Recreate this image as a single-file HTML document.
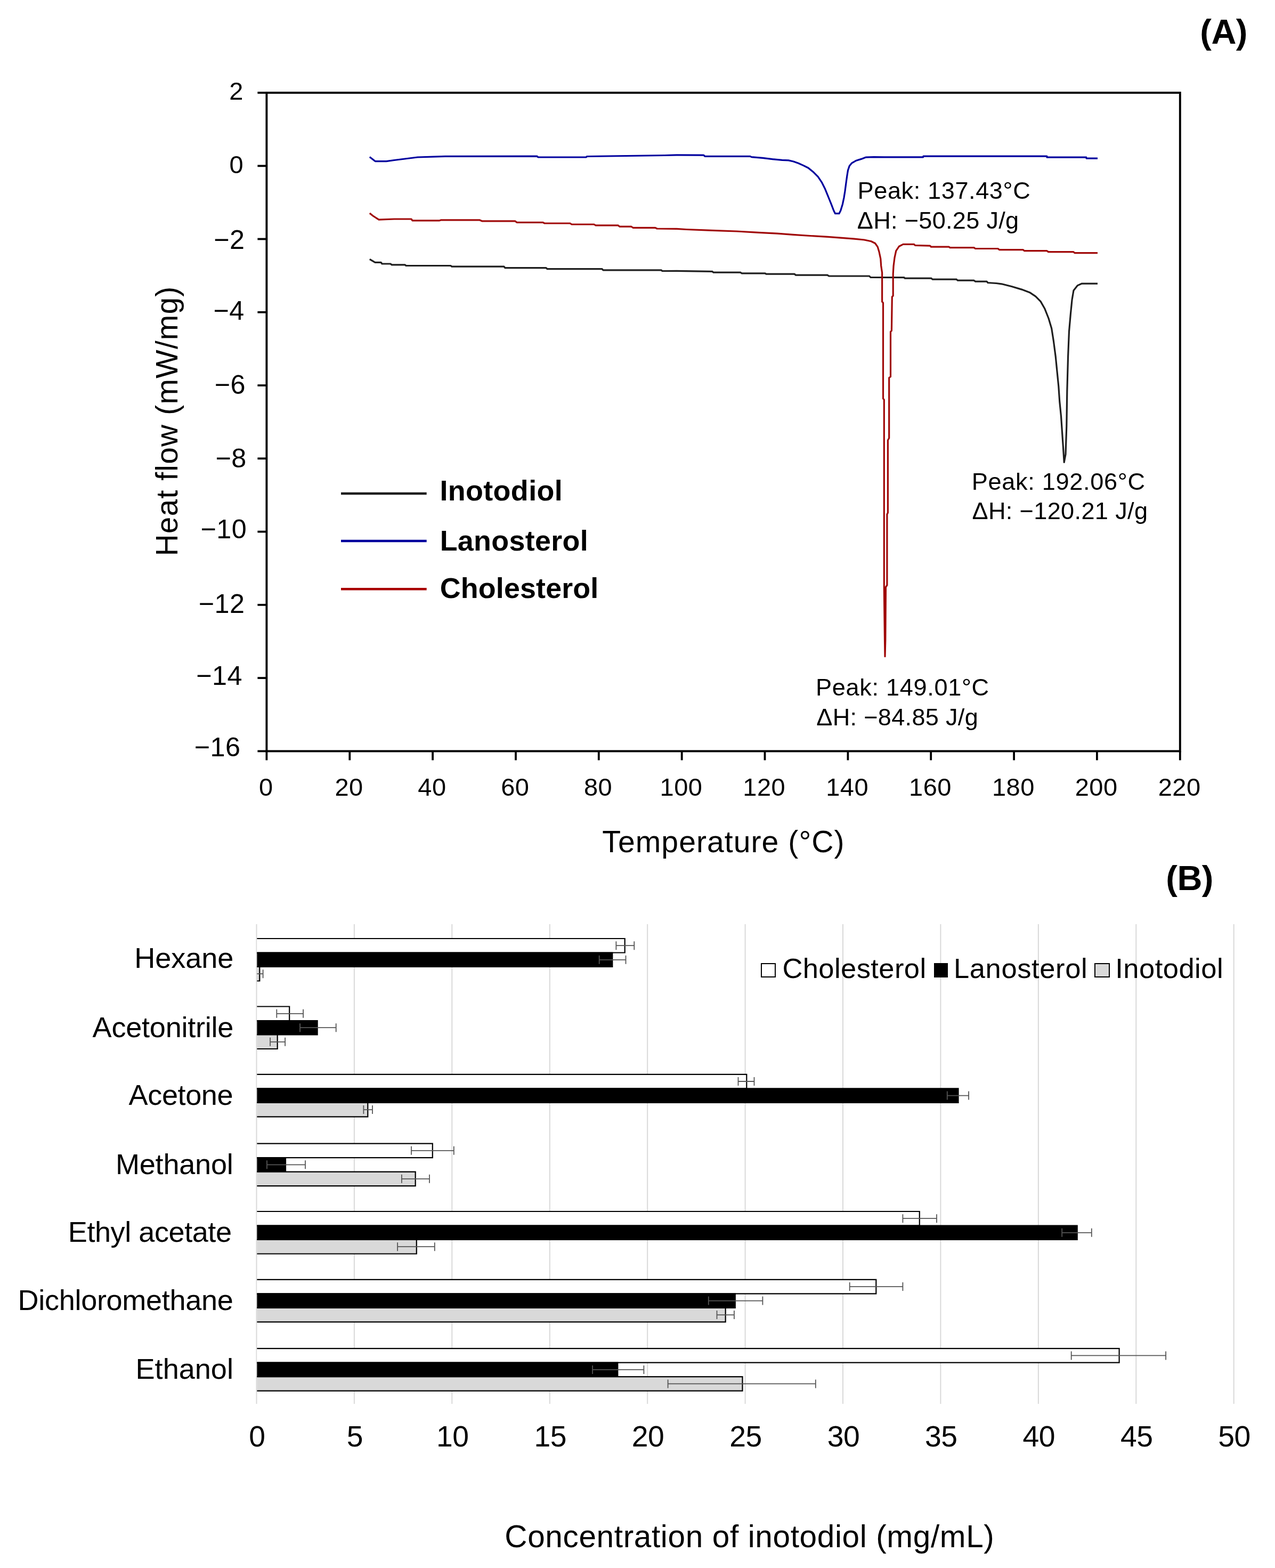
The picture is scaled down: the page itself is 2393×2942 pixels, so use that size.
<!DOCTYPE html><html><head><meta charset="utf-8"><title>Figure</title>
<style>html,body{margin:0;padding:0;background:#fff;}svg{display:block;}text{font-family:"Liberation Sans", Arial, sans-serif;}</style>
</head><body>
<svg width="2393" height="2942" viewBox="0 0 2393 2942">
<rect x="0" y="0" width="2393" height="2942" fill="#fff"/>
<text x="2252.35" y="81.90" font-size="65.00" font-weight="bold" letter-spacing="-0.53">(A)</text>
<text x="2188.35" y="1670.20" font-size="65.00" font-weight="bold" letter-spacing="-0.53">(B)</text>
<polyline points="693.8,486.4 704.0,492.3 715.0,492.3 717.0,495.0 733.0,495.0 735.0,496.8 760.0,496.8 762.0,498.5 846.0,498.5 848.0,500.2 946.0,500.2 948.0,502.7 1025.0,502.7 1027.0,504.7 1130.0,504.7 1132.0,506.8 1241.0,506.8 1243.0,508.5 1270.0,508.4 1336.8,509.3 1339.0,511.2 1390.0,511.2 1392.0,512.8 1436.0,512.8 1438.0,514.1 1491.0,514.1 1493.5,516.2 1553.0,516.2 1555.7,518.0 1631.7,518.0 1634.0,520.5 1697.0,520.7 1698.0,522.2 1748.0,522.2 1750.0,524.1 1795.0,524.1 1797.5,526.2 1828.0,526.2 1830.6,528.1 1852.0,528.1 1854.0,530.5 1870.0,531.5 1880.0,532.8 1898.7,537.5 1917.5,543.1 1932.5,548.7 1943.7,556.2 1953.1,565.6 1960.6,578.7 1968.1,597.5 1973.7,616.2 1977.5,640.6 1981.2,668.7 1984.0,696.8 1986.8,724.9 1988.7,753.0 1991.5,781.2 1993.4,809.3 1995.3,837.4 1997.2,867.4 2000.0,852.4 2001.8,799.9 2002.8,734.3 2004.6,668.7 2006.5,621.8 2009.3,590.0 2012.1,561.9 2015.0,545.0 2022.5,535.6 2030.0,532.2 2060.0,532.1" fill="none" stroke="#1e1e1e" stroke-width="3.2" stroke-linejoin="round" stroke-linecap="butt"/>
<polyline points="693.8,400.0 700.0,405.0 711.0,412.1 740.0,411.0 772.0,411.0 774.0,413.8 825.0,413.8 828.0,412.8 900.0,412.8 905.0,414.9 967.0,414.9 970.0,417.3 1019.0,417.3 1022.0,419.0 1070.0,419.0 1073.0,421.0 1115.0,421.0 1118.0,422.8 1160.0,422.8 1163.0,425.2 1185.0,425.2 1188.0,427.3 1230.0,427.3 1233.0,429.0 1270.0,429.4 1288.4,430.5 1336.8,432.4 1382.9,434.0 1424.4,436.3 1459.0,438.1 1488.9,440.4 1521.2,442.5 1553.4,444.3 1576.9,446.2 1603.1,448.1 1621.9,450.0 1635.0,452.8 1642.5,456.5 1647.2,463.1 1650.0,472.5 1652.8,485.6 1653.7,498.7 1655.6,511.8 1655.6,566.2 1657.5,568.1 1657.5,748.0 1659.3,749.9 1659.3,1101.5 1660.5,1200.0 1661.0,1231.6 1661.8,1200.6 1662.5,1101.5 1664.9,1098.0 1664.9,965.0 1666.4,962.0 1666.4,826.0 1668.7,822.0 1668.7,708.7 1671.5,706.8 1671.5,622.4 1673.4,620.6 1674.3,556.8 1676.2,555.0 1676.2,513.7 1677.1,498.7 1679.0,483.7 1681.8,470.6 1687.5,462.2 1695.0,458.4 1715.6,458.4 1717.5,460.3 1745.6,461.2 1747.4,463.1 1781.0,463.1 1783.0,464.6 1828.0,464.6 1830.6,466.5 1873.0,466.5 1875.5,468.6 1920.0,468.6 1922.7,470.7 1965.0,470.7 1967.6,472.6 2014.8,472.6 2017.0,474.7 2060.0,474.7" fill="none" stroke="#a00808" stroke-width="3.2" stroke-linejoin="round" stroke-linecap="butt"/>
<polyline points="693.8,294.6 704.2,302.6 725.0,302.6 740.0,300.5 760.0,298.0 783.7,295.0 835.5,293.4 1008.0,293.2 1010.0,295.0 1100.0,295.0 1101.7,293.5 1246.9,291.5 1270.0,290.8 1320.7,291.1 1323.0,293.4 1408.0,293.4 1410.5,294.6 1431.3,296.4 1449.7,298.7 1468.0,300.3 1480.0,300.9 1489.2,303.0 1498.4,306.3 1507.6,310.4 1516.9,315.0 1526.1,322.4 1535.3,331.6 1542.7,342.7 1548.2,353.7 1552.8,364.8 1556.5,374.0 1560.2,383.2 1564.8,395.2 1567.6,400.7 1574.9,400.7 1577.7,395.2 1581.4,383.2 1584.1,370.3 1586.0,358.3 1587.8,344.5 1589.7,330.7 1591.5,319.6 1594.3,311.3 1598.9,305.8 1607.2,301.2 1616.4,298.4 1624.7,295.2 1640.0,294.7 1660.0,294.9 1732.6,294.9 1733.0,293.2 1964.9,293.2 1965.0,295.2 2038.7,295.2 2039.0,297.1 2060.0,297.1" fill="none" stroke="#00009e" stroke-width="3.2" stroke-linejoin="round" stroke-linecap="butt"/>
<rect x="500.4" y="174.0" width="1714.4" height="1235.4" fill="none" stroke="#000" stroke-width="3.9"/>
<line x1="483.4" y1="174.0" x2="500.4" y2="174.0" stroke="#000" stroke-width="3.8"/>
<line x1="483.4" y1="311.3" x2="500.4" y2="311.3" stroke="#000" stroke-width="3.8"/>
<line x1="483.4" y1="448.5" x2="500.4" y2="448.5" stroke="#000" stroke-width="3.8"/>
<line x1="483.4" y1="585.8" x2="500.4" y2="585.8" stroke="#000" stroke-width="3.8"/>
<line x1="483.4" y1="723.1" x2="500.4" y2="723.1" stroke="#000" stroke-width="3.8"/>
<line x1="483.4" y1="860.3" x2="500.4" y2="860.3" stroke="#000" stroke-width="3.8"/>
<line x1="483.4" y1="997.6" x2="500.4" y2="997.6" stroke="#000" stroke-width="3.8"/>
<line x1="483.4" y1="1134.9" x2="500.4" y2="1134.9" stroke="#000" stroke-width="3.8"/>
<line x1="483.4" y1="1272.1" x2="500.4" y2="1272.1" stroke="#000" stroke-width="3.8"/>
<line x1="483.4" y1="1409.4" x2="500.4" y2="1409.4" stroke="#000" stroke-width="3.8"/>
<line x1="500.4" y1="1409.4" x2="500.4" y2="1426.4" stroke="#000" stroke-width="3.8"/>
<text x="499.2" y="1492.6" font-size="47" letter-spacing="0.5" text-anchor="middle">0</text>
<line x1="656.3" y1="1409.4" x2="656.3" y2="1426.4" stroke="#000" stroke-width="3.8"/>
<text x="655.1" y="1492.6" font-size="47" letter-spacing="0.5" text-anchor="middle">20</text>
<line x1="812.1" y1="1409.4" x2="812.1" y2="1426.4" stroke="#000" stroke-width="3.8"/>
<text x="810.9" y="1492.6" font-size="47" letter-spacing="0.5" text-anchor="middle">40</text>
<line x1="968.0" y1="1409.4" x2="968.0" y2="1426.4" stroke="#000" stroke-width="3.8"/>
<text x="966.8" y="1492.6" font-size="47" letter-spacing="0.5" text-anchor="middle">60</text>
<line x1="1123.8" y1="1409.4" x2="1123.8" y2="1426.4" stroke="#000" stroke-width="3.8"/>
<text x="1122.6" y="1492.6" font-size="47" letter-spacing="0.5" text-anchor="middle">80</text>
<line x1="1279.7" y1="1409.4" x2="1279.7" y2="1426.4" stroke="#000" stroke-width="3.8"/>
<text x="1278.5" y="1492.6" font-size="47" letter-spacing="0.5" text-anchor="middle">100</text>
<line x1="1435.5" y1="1409.4" x2="1435.5" y2="1426.4" stroke="#000" stroke-width="3.8"/>
<text x="1434.3" y="1492.6" font-size="47" letter-spacing="0.5" text-anchor="middle">120</text>
<line x1="1591.4" y1="1409.4" x2="1591.4" y2="1426.4" stroke="#000" stroke-width="3.8"/>
<text x="1590.2" y="1492.6" font-size="47" letter-spacing="0.5" text-anchor="middle">140</text>
<line x1="1747.2" y1="1409.4" x2="1747.2" y2="1426.4" stroke="#000" stroke-width="3.8"/>
<text x="1746.0" y="1492.6" font-size="47" letter-spacing="0.5" text-anchor="middle">160</text>
<line x1="1903.1" y1="1409.4" x2="1903.1" y2="1426.4" stroke="#000" stroke-width="3.8"/>
<text x="1901.9" y="1492.6" font-size="47" letter-spacing="0.5" text-anchor="middle">180</text>
<line x1="2058.9" y1="1409.4" x2="2058.9" y2="1426.4" stroke="#000" stroke-width="3.8"/>
<text x="2057.7" y="1492.6" font-size="47" letter-spacing="0.5" text-anchor="middle">200</text>
<line x1="2214.8" y1="1409.4" x2="2214.8" y2="1426.4" stroke="#000" stroke-width="3.8"/>
<text x="2213.6" y="1492.6" font-size="47" letter-spacing="0.5" text-anchor="middle">220</text>
<text x="1130.36" y="1598.60" font-size="57.10" letter-spacing="1.05">Temperature (°C)</text>
<text transform="translate(333.05,1043.55) rotate(-90)" x="0" y="0" font-size="56.91" letter-spacing="1.18">Heat flow (mW/mg)</text>
<line x1="640" y1="926.0" x2="800.7" y2="926.0" stroke="#1e1e1e" stroke-width="4.6"/>
<line x1="640" y1="1015.0" x2="800.7" y2="1015.0" stroke="#00009c" stroke-width="4.6"/>
<line x1="640" y1="1105.3" x2="800.7" y2="1105.3" stroke="#a80000" stroke-width="4.6"/>
<text x="430.34" y="187.40" font-size="47.00">2</text>
<text x="430.49" y="324.71" font-size="47.00">0</text>
<text x="401.18" y="466.80" font-size="50.30" letter-spacing="0.40">−2</text>
<text x="400.48" y="600.10" font-size="50.30" letter-spacing="0.40">−4</text>
<text x="402.83" y="739.15" font-size="50.30" letter-spacing="0.40">−6</text>
<text x="404.53" y="876.75" font-size="50.30" letter-spacing="0.40">−8</text>
<text x="376.54" y="1010.25" font-size="50.30" letter-spacing="0.40">−10</text>
<text x="372.84" y="1149.91" font-size="50.30" letter-spacing="0.40">−12</text>
<text x="368.34" y="1285.25" font-size="50.30" letter-spacing="0.40">−14</text>
<text x="364.74" y="1418.70" font-size="50.30" letter-spacing="0.40">−16</text>
<text x="825.43" y="938.50" font-size="53.80" font-weight="bold" letter-spacing="0.40">Inotodiol</text>
<text x="825.63" y="1032.90" font-size="53.80" font-weight="bold" letter-spacing="0.34">Lanosterol</text>
<text x="825.75" y="1121.96" font-size="53.80" font-weight="bold" letter-spacing="0.16">Cholesterol</text>
<text x="1609.59" y="372.60" font-size="45.10" letter-spacing="0.60">Peak: 137.43°C</text>
<text x="1608.75" y="428.50" font-size="45.10" letter-spacing="0.29">ΔH: −50.25 J/g</text>
<text x="1823.79" y="918.70" font-size="45.10" letter-spacing="0.68">Peak: 192.06°C</text>
<text x="1824.45" y="974.30" font-size="45.10" letter-spacing="0.35">ΔH: −120.21 J/g</text>
<text x="1531.09" y="1305.20" font-size="45.10" letter-spacing="0.67">Peak: 149.01°C</text>
<text x="1532.25" y="1360.80" font-size="45.10" letter-spacing="0.30">ΔH: −84.85 J/g</text>
<line x1="481.5" y1="1734" x2="481.5" y2="2634" stroke="#d9d9d9" stroke-width="2"/>
<text x="482.4" y="2713.8" font-size="55.3" letter-spacing="-0.5" text-anchor="middle">0</text>
<line x1="664.9" y1="1734" x2="664.9" y2="2634" stroke="#d9d9d9" stroke-width="2"/>
<text x="665.8" y="2713.8" font-size="55.3" letter-spacing="-0.5" text-anchor="middle">5</text>
<line x1="848.3" y1="1734" x2="848.3" y2="2634" stroke="#d9d9d9" stroke-width="2"/>
<text x="849.2" y="2713.8" font-size="55.3" letter-spacing="-0.5" text-anchor="middle">10</text>
<line x1="1031.8" y1="1734" x2="1031.8" y2="2634" stroke="#d9d9d9" stroke-width="2"/>
<text x="1032.7" y="2713.8" font-size="55.3" letter-spacing="-0.5" text-anchor="middle">15</text>
<line x1="1215.2" y1="1734" x2="1215.2" y2="2634" stroke="#d9d9d9" stroke-width="2"/>
<text x="1216.1" y="2713.8" font-size="55.3" letter-spacing="-0.5" text-anchor="middle">20</text>
<line x1="1398.6" y1="1734" x2="1398.6" y2="2634" stroke="#d9d9d9" stroke-width="2"/>
<text x="1399.5" y="2713.8" font-size="55.3" letter-spacing="-0.5" text-anchor="middle">25</text>
<line x1="1582.0" y1="1734" x2="1582.0" y2="2634" stroke="#d9d9d9" stroke-width="2"/>
<text x="1582.9" y="2713.8" font-size="55.3" letter-spacing="-0.5" text-anchor="middle">30</text>
<line x1="1765.4" y1="1734" x2="1765.4" y2="2634" stroke="#d9d9d9" stroke-width="2"/>
<text x="1766.3" y="2713.8" font-size="55.3" letter-spacing="-0.5" text-anchor="middle">35</text>
<line x1="1948.9" y1="1734" x2="1948.9" y2="2634" stroke="#d9d9d9" stroke-width="2"/>
<text x="1949.8" y="2713.8" font-size="55.3" letter-spacing="-0.5" text-anchor="middle">40</text>
<line x1="2132.3" y1="1734" x2="2132.3" y2="2634" stroke="#d9d9d9" stroke-width="2"/>
<text x="2133.2" y="2713.8" font-size="55.3" letter-spacing="-0.5" text-anchor="middle">45</text>
<line x1="2315.7" y1="1734" x2="2315.7" y2="2634" stroke="#d9d9d9" stroke-width="2"/>
<text x="2316.6" y="2713.8" font-size="55.3" letter-spacing="-0.5" text-anchor="middle">50</text>
<rect x="482.4" y="1761.0" width="690.3" height="26.5" fill="#ffffff"/>
<polyline points="482.4,1761.0 1172.7,1761.0 1172.7,1787.5 482.4,1787.5" fill="none" stroke="#000" stroke-width="2.2"/>
<rect x="482.4" y="1787.5" width="666.9" height="26.5" fill="#000000"/>
<polyline points="482.4,1787.5 1149.3,1787.5 1149.3,1814.0 482.4,1814.0" fill="none" stroke="#000" stroke-width="2.2"/>
<rect x="482.4" y="1814.0" width="4.9" height="26.5" fill="#d9d9d9"/>
<polyline points="482.4,1814.0 487.3,1814.0 487.3,1840.5 482.4,1840.5" fill="none" stroke="#000" stroke-width="2.2"/>
<path d="M1156.4 1774.2H1190.3M1190.3 1766.2V1782.2M1156.4 1766.2V1782.2" stroke="#555" stroke-width="1.8" fill="none"/>
<path d="M1124.7 1800.8H1174.5M1174.5 1792.8V1808.8M1124.7 1792.8V1808.8" stroke="#555" stroke-width="1.8" fill="none"/>
<path d="M482.4 1827.2H493.6M493.6 1819.2V1835.2" stroke="#555" stroke-width="1.8" fill="none"/>
<text x="252.17" y="1815.70" font-size="54.10" letter-spacing="-0.04">Hexane</text>
<rect x="482.4" y="1888.5" width="60.8" height="26.5" fill="#ffffff"/>
<polyline points="482.4,1888.5 543.2,1888.5 543.2,1915.0 482.4,1915.0" fill="none" stroke="#000" stroke-width="2.2"/>
<rect x="482.4" y="1915.0" width="113.2" height="26.5" fill="#000000"/>
<polyline points="482.4,1915.0 595.6,1915.0 595.6,1941.5 482.4,1941.5" fill="none" stroke="#000" stroke-width="2.2"/>
<rect x="482.4" y="1941.5" width="38.3" height="26.5" fill="#d9d9d9"/>
<polyline points="482.4,1941.5 520.7,1941.5 520.7,1968.0 482.4,1968.0" fill="none" stroke="#000" stroke-width="2.2"/>
<path d="M519.3 1901.8H569.1M569.1 1893.8V1909.8M519.3 1893.8V1909.8" stroke="#555" stroke-width="1.8" fill="none"/>
<path d="M563.1 1928.2H630.7M630.7 1920.2V1936.2M563.1 1920.2V1936.2" stroke="#555" stroke-width="1.8" fill="none"/>
<path d="M507.1 1954.8H535.1M535.1 1946.8V1962.8M507.1 1946.8V1962.8" stroke="#555" stroke-width="1.8" fill="none"/>
<text x="173.60" y="1945.50" font-size="54.10" letter-spacing="-0.25">Acetonitrile</text>
<rect x="482.4" y="2015.8" width="918.9" height="26.5" fill="#ffffff"/>
<polyline points="482.4,2015.8 1401.3,2015.8 1401.3,2042.3 482.4,2042.3" fill="none" stroke="#000" stroke-width="2.2"/>
<rect x="482.4" y="2042.3" width="1316.1" height="26.5" fill="#000000"/>
<polyline points="482.4,2042.3 1798.5,2042.3 1798.5,2068.8 482.4,2068.8" fill="none" stroke="#000" stroke-width="2.2"/>
<rect x="482.4" y="2068.8" width="207.9" height="26.5" fill="#d9d9d9"/>
<polyline points="482.4,2068.8 690.3,2068.8 690.3,2095.3 482.4,2095.3" fill="none" stroke="#000" stroke-width="2.2"/>
<path d="M1385.5 2029.0H1415.5M1415.5 2021.0V2037.0M1385.5 2021.0V2037.0" stroke="#555" stroke-width="1.8" fill="none"/>
<path d="M1777.8 2055.6H1818.1M1818.1 2047.6V2063.6M1777.8 2047.6V2063.6" stroke="#555" stroke-width="1.8" fill="none"/>
<path d="M682.4 2082.1H699.0M699.0 2074.1V2090.1M682.4 2074.1V2090.1" stroke="#555" stroke-width="1.8" fill="none"/>
<text x="241.60" y="2072.90" font-size="54.10" letter-spacing="-0.42">Acetone</text>
<rect x="482.4" y="2145.6" width="329.4" height="26.5" fill="#ffffff"/>
<polyline points="482.4,2145.6 811.8,2145.6 811.8,2172.1 482.4,2172.1" fill="none" stroke="#000" stroke-width="2.2"/>
<rect x="482.4" y="2172.1" width="53.6" height="26.5" fill="#000000"/>
<polyline points="482.4,2172.1 536.0,2172.1 536.0,2198.6 482.4,2198.6" fill="none" stroke="#000" stroke-width="2.2"/>
<rect x="482.4" y="2198.6" width="297.3" height="26.5" fill="#d9d9d9"/>
<polyline points="482.4,2198.6 779.7,2198.6 779.7,2225.1 482.4,2225.1" fill="none" stroke="#000" stroke-width="2.2"/>
<path d="M772.0 2158.8H851.8M851.8 2150.8V2166.8M772.0 2150.8V2166.8" stroke="#555" stroke-width="1.8" fill="none"/>
<path d="M501.0 2185.3H573.0M573.0 2177.3V2193.3M501.0 2177.3V2193.3" stroke="#555" stroke-width="1.8" fill="none"/>
<path d="M753.9 2211.8H806.0M806.0 2203.8V2219.8M753.9 2203.8V2219.8" stroke="#555" stroke-width="1.8" fill="none"/>
<text x="216.97" y="2202.50" font-size="54.10" letter-spacing="-0.25">Methanol</text>
<rect x="482.4" y="2273.0" width="1243.4" height="26.5" fill="#ffffff"/>
<polyline points="482.4,2273.0 1725.8,2273.0 1725.8,2299.5 482.4,2299.5" fill="none" stroke="#000" stroke-width="2.2"/>
<rect x="482.4" y="2299.5" width="1539.3" height="26.5" fill="#000000"/>
<polyline points="482.4,2299.5 2021.7,2299.5 2021.7,2326.0 482.4,2326.0" fill="none" stroke="#000" stroke-width="2.2"/>
<rect x="482.4" y="2326.0" width="299.4" height="26.5" fill="#d9d9d9"/>
<polyline points="482.4,2326.0 781.8,2326.0 781.8,2352.5 482.4,2352.5" fill="none" stroke="#000" stroke-width="2.2"/>
<path d="M1694.4 2286.2H1758.0M1758.0 2278.2V2294.2M1694.4 2278.2V2294.2" stroke="#555" stroke-width="1.8" fill="none"/>
<path d="M1993.2 2312.8H2048.8M2048.8 2304.8V2320.8M1993.2 2304.8V2320.8" stroke="#555" stroke-width="1.8" fill="none"/>
<path d="M746.1 2339.2H815.8M815.8 2331.2V2347.2M746.1 2331.2V2347.2" stroke="#555" stroke-width="1.8" fill="none"/>
<text x="127.77" y="2330.00" font-size="54.10" letter-spacing="-0.46">Ethyl acetate</text>
<rect x="482.4" y="2400.8" width="1161.9" height="26.5" fill="#ffffff"/>
<polyline points="482.4,2400.8 1644.3,2400.8 1644.3,2427.3 482.4,2427.3" fill="none" stroke="#000" stroke-width="2.2"/>
<rect x="482.4" y="2427.3" width="897.4" height="26.5" fill="#000000"/>
<polyline points="482.4,2427.3 1379.8,2427.3 1379.8,2453.8 482.4,2453.8" fill="none" stroke="#000" stroke-width="2.2"/>
<rect x="482.4" y="2453.8" width="879.3" height="26.5" fill="#d9d9d9"/>
<polyline points="482.4,2453.8 1361.7,2453.8 1361.7,2480.3 482.4,2480.3" fill="none" stroke="#000" stroke-width="2.2"/>
<path d="M1594.7 2414.1H1694.4M1694.4 2406.1V2422.1M1594.7 2406.1V2422.1" stroke="#555" stroke-width="1.8" fill="none"/>
<path d="M1329.8 2440.6H1431.4M1431.4 2432.6V2448.6M1329.8 2432.6V2448.6" stroke="#555" stroke-width="1.8" fill="none"/>
<path d="M1345.5 2467.1H1377.9M1377.9 2459.1V2475.1M1345.5 2459.1V2475.1" stroke="#555" stroke-width="1.8" fill="none"/>
<text x="33.57" y="2457.60" font-size="54.10" letter-spacing="-0.33">Dichloromethane</text>
<rect x="482.4" y="2530.2" width="1618.2" height="26.5" fill="#ffffff"/>
<polyline points="482.4,2530.2 2100.6,2530.2 2100.6,2556.7 482.4,2556.7" fill="none" stroke="#000" stroke-width="2.2"/>
<rect x="482.4" y="2556.7" width="676.9" height="26.5" fill="#000000"/>
<polyline points="482.4,2556.7 1159.3,2556.7 1159.3,2583.2 482.4,2583.2" fill="none" stroke="#000" stroke-width="2.2"/>
<rect x="482.4" y="2583.2" width="911.1" height="26.5" fill="#d9d9d9"/>
<polyline points="482.4,2583.2 1393.5,2583.2 1393.5,2609.7 482.4,2609.7" fill="none" stroke="#000" stroke-width="2.2"/>
<path d="M2010.7 2543.4H2188.1M2188.1 2535.4V2551.4M2010.7 2535.4V2551.4" stroke="#555" stroke-width="1.8" fill="none"/>
<path d="M1112.1 2569.9H1208.4M1208.4 2561.9V2577.9M1112.1 2561.9V2577.9" stroke="#555" stroke-width="1.8" fill="none"/>
<path d="M1253.6 2596.4H1530.8M1530.8 2588.4V2604.4M1253.6 2588.4V2604.4" stroke="#555" stroke-width="1.8" fill="none"/>
<text x="254.57" y="2586.70" font-size="54.10" letter-spacing="-0.02">Ethanol</text>
<rect x="1429" y="1808" width="26" height="25" fill="#fff" stroke="#000" stroke-width="2"/>
<text x="1468.38" y="1834.78" font-size="52.50" letter-spacing="0.42">Cholesterol</text>
<rect x="1753" y="1807" width="26" height="27" fill="#000"/>
<text x="1790.00" y="1834.90" font-size="52.50" letter-spacing="0.61">Lanosterol</text>
<rect x="2055" y="1808" width="27" height="25" fill="#d9d9d9" stroke="#000" stroke-width="2"/>
<text x="2093.28" y="1834.90" font-size="52.50" letter-spacing="0.48">Inotodiol</text>
<text x="947.28" y="2902.82" font-size="58.50" letter-spacing="0.64">Concentration of inotodiol (mg/mL)</text>
</svg></body></html>
